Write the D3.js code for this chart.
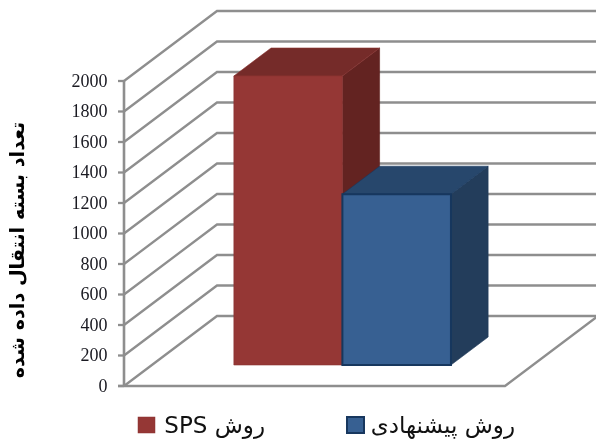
<!DOCTYPE html>
<html>
<head>
<meta charset="utf-8">
<script src="https://cdnjs.cloudflare.com/ajax/libs/d3/7.8.5/d3.min.js"></script>
<style>
html,body{margin:0;padding:0;background:#fff;}
svg{display:block;filter:blur(0.35px);}
</style>
</head>
<body>
<svg id="chart" width="596" height="439"></svg>
<script>
const seriesNames = ["روش SPS", "روش پیشنهادی"];
const seriesValues = [1895, 1120];
const frontColors = ["#953735", "#376092"];
const topColors = ["#752B29", "#27476C"];
const sideColors = ["#632321", "#233D5B"];
const edgeColors = ["#8A3331", "#17375E"];
const tickValues = [0, 200, 400, 600, 800, 1000, 1200, 1400, 1600, 1800, 2000];
const axisTitle = "تعداد بسته انتقال داده شده";

const svg = d3.select("#chart");
const y = d3.scaleLinear().domain([0, 2000]).range([386, 81]);
const x = d3.scaleBand().domain(seriesNames).range([124, 505]).paddingInner(0).paddingOuter(0.755);
const depthX = d3.scaleLinear().domain([0, 1]).range([0, 93]);
const depthY = d3.scaleLinear().domain([0, 1]).range([0, -70]);
const project = (px, v, z) => [px + depthX(z), y(v) + depthY(z)];
const gridColor = "#8E8E8E";
const lineGen = d3.line();

// gridlines: side wall then back wall
svg.append("g").selectAll("path").data(tickValues).join("path")
  .attr("d", v => lineGen([project(124, v, 0), project(124, v, 1), [596, project(124, v, 1)[1]]]))
  .attr("fill", "none").attr("stroke", gridColor).attr("stroke-width", 2.3);

// floor front and right edge
svg.append("path")
  .attr("d", lineGen([project(118, 0, 0), project(505, 0, 0), project(505, 0, 1), project(596, 0, 1)]))
  .attr("fill", "none").attr("stroke", gridColor).attr("stroke-width", 2.3);

// vertical axis and ticks
svg.append("line").attr("x1", 124).attr("x2", 124).attr("y1", y(2000)).attr("y2", y(0))
  .attr("stroke", gridColor).attr("stroke-width", 2.6);
svg.append("g").selectAll("line").data(tickValues).join("line")
  .attr("x1", 118).attr("x2", 124).attr("y1", v => y(v)).attr("y2", v => y(v))
  .attr("stroke", gridColor).attr("stroke-width", 2.3);
svg.append("g").selectAll("text").data(tickValues).join("text")
  .attr("x", 107.5).attr("y", v => y(v)).attr("dy", "0.33em").attr("text-anchor", "end")
  .attr("font-family", "'Liberation Serif', serif").attr("font-size", 18).attr("fill", "#1a1a22")
  .text(d => d);

// 3D bars
const zFront = 0.3, zBack = 0.7;
const poly = pts => "M" + pts.map(p => p.join(",")).join("L") + "Z";
const bars = svg.append("g").selectAll("g").data(seriesNames).join("g");
bars.each(function(name, i) {
  const g = d3.select(this);
  const v = seriesValues[i];
  const x0 = x(name), x1 = x0 + x.bandwidth();
  const sw = i === 1 ? 2 : 0.6;
  g.append("path").attr("d", poly([project(x1, 0, zFront), project(x1, 0, zBack), project(x1, v, zBack), project(x1, v, zFront)]))
    .attr("fill", sideColors[i]).attr("stroke", sideColors[i]).attr("stroke-width", 0.6);
  g.append("path").attr("d", poly([project(x0, v, zFront), project(x1, v, zFront), project(x1, v, zBack), project(x0, v, zBack)]))
    .attr("fill", topColors[i]).attr("stroke", edgeColors[i]).attr("stroke-width", 0.6);
  g.append("path").attr("d", poly([project(x0, 0, zFront), project(x1, 0, zFront), project(x1, v, zFront), project(x0, v, zFront)]))
    .attr("fill", frontColors[i]).attr("stroke", edgeColors[i]).attr("stroke-width", sw);
});

// axis title
svg.append("text")
  .attr("transform", "translate(17,250) rotate(-90)")
  .attr("text-anchor", "middle").attr("dy", "0.35em").attr("direction", "rtl")
  .attr("font-family", "'DejaVu Sans', sans-serif").attr("font-weight", "bold").attr("font-size", 19.2)
  .attr("fill", "#000").text(axisTitle);

// legend
const legendX = [138, 347], legendTextRight = [265, 515];
const legend = svg.append("g").selectAll("g").data(seriesNames).join("g");
legend.append("rect")
  .attr("x", (d, i) => legendX[i]).attr("y", 417).attr("width", 17).attr("height", 16)
  .attr("fill", (d, i) => frontColors[i])
  .attr("stroke", (d, i) => edgeColors[i]).attr("stroke-width", (d, i) => i === 1 ? 2 : 0.5);
legend.append("text")
  .attr("x", (d, i) => legendTextRight[i]).attr("y", 432.5)
  .attr("direction", "rtl").attr("text-anchor", "start")
  .attr("font-family", "'DejaVu Sans', sans-serif").attr("font-size", 23).attr("fill", "#111")
  .text(d => d);
</script>
</body>
</html>
